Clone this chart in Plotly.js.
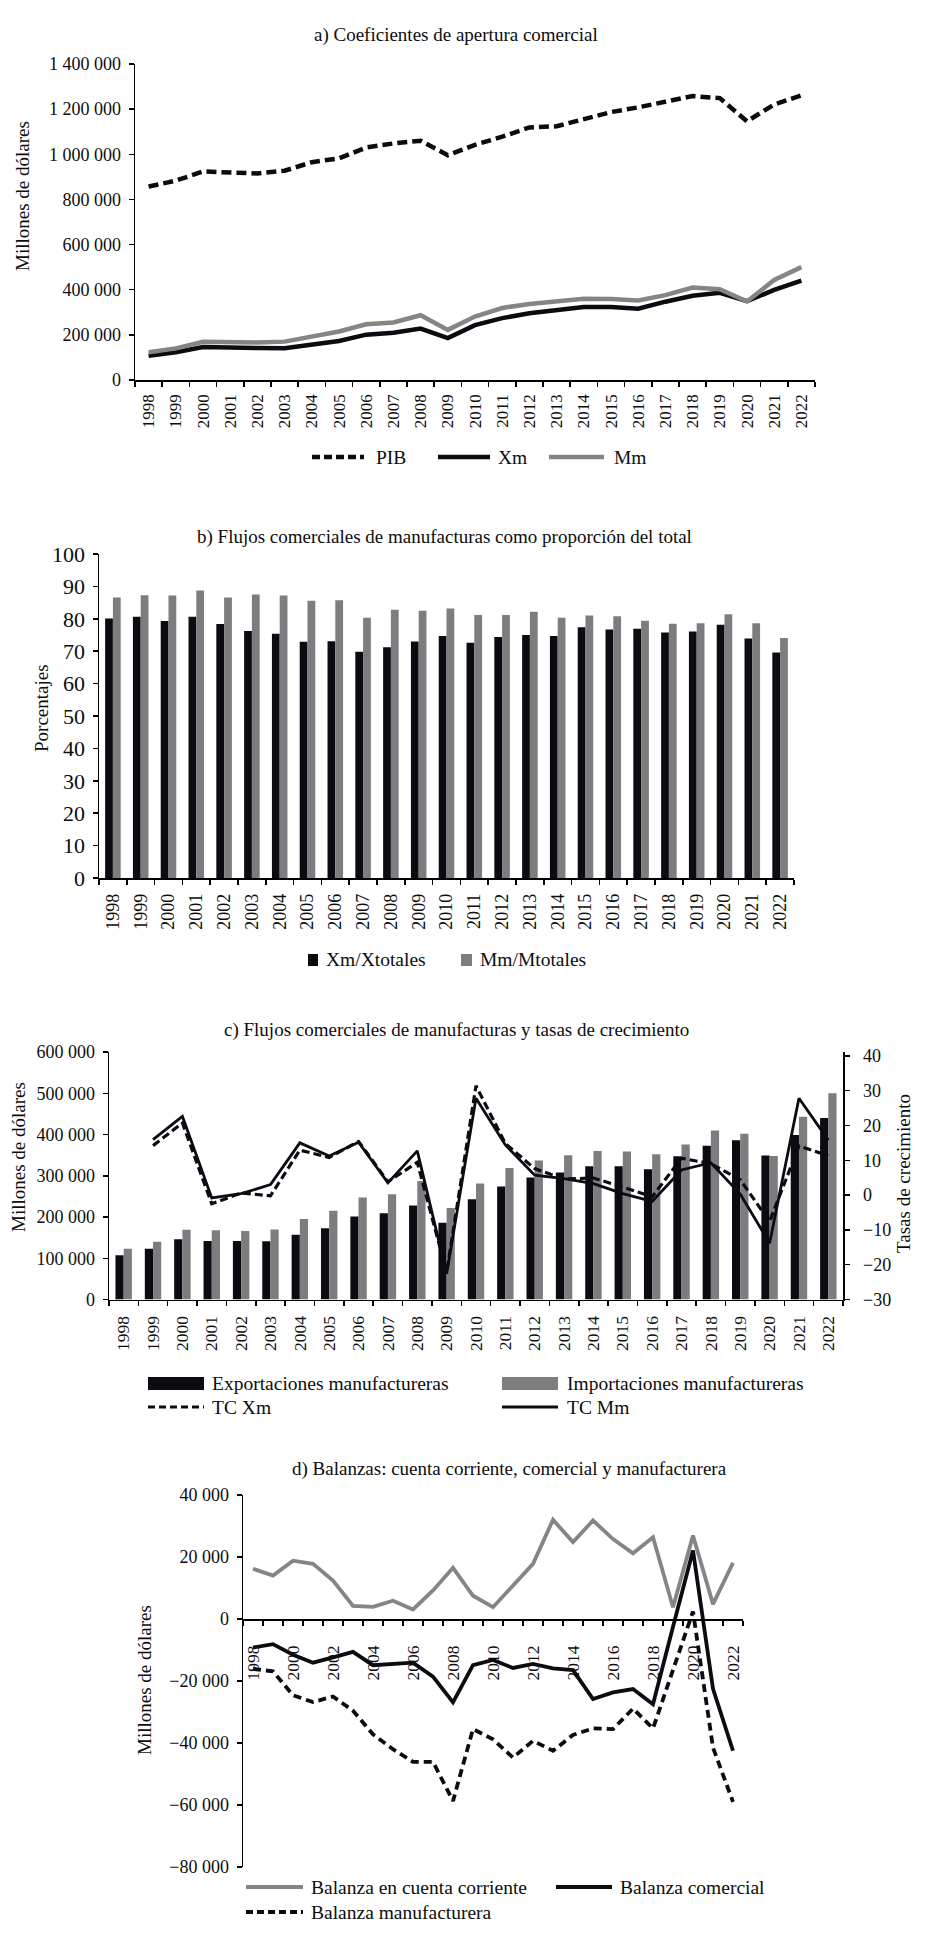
<!DOCTYPE html>
<html>
<head>
<meta charset="utf-8">
<script src="https://cdn.plot.ly/plotly-3.0.1.min.js"></script>
<style>html,body{margin:0;padding:0;background:#fff;}#chart{width:928px;height:1938px;}</style>
</head>
<body>
<div id="chart"></div>
<script>
// ---------- DATA ----------
const years = ['1998','1999','2000','2001','2002','2003','2004','2005','2006','2007','2008','2009','2010','2011','2012','2013','2014','2015','2016','2017','2018','2019','2020','2021','2022'];

// a) PIB and manufacturing flows (millones de dólares)
const pib = [857000, 883000, 924000, 918000, 915000, 927000, 965000, 982000, 1030000, 1048000, 1060000, 996000, 1042000, 1078000, 1119000, 1124000, 1156000, 1187000, 1208000, 1233000, 1258000, 1249000, 1146000, 1221000, 1261000];
const xm = [107000, 123000, 146000, 142000, 142000, 141000, 157000, 173000, 201000, 209000, 228000, 186000, 243000, 274000, 296000, 308000, 323000, 323000, 316000, 347000, 373000, 386000, 349000, 399000, 440000];
const mm = [123000, 140000, 169000, 168000, 166000, 170000, 195000, 215000, 247000, 255000, 287000, 222000, 281000, 319000, 337000, 350000, 360000, 359000, 352000, 376000, 410000, 402000, 348000, 443000, 500000];

// b) shares (%)
const xmShare = [80.1, 80.6, 79.3, 80.6, 78.4, 76.2, 75.4, 72.9, 73.1, 69.8, 71.2, 73.0, 74.7, 72.6, 74.4, 75.0, 74.7, 77.4, 76.7, 76.9, 75.8, 76.1, 78.2, 73.9, 69.6];
const mmShare = [86.6, 87.3, 87.2, 88.7, 86.6, 87.5, 87.2, 85.6, 85.7, 80.3, 82.8, 82.5, 83.2, 81.2, 81.2, 82.2, 80.3, 81.0, 80.8, 79.4, 78.5, 78.6, 81.4, 78.6, 74.1];

// c) growth rates (%)
const tcXm = [null, 14.2, 20.7, -2.5, 0.6, -0.2, 12.9, 10.8, 15.4, 3.8, 9.4, -22.2, 31.4, 14.8, 7.6, 4.6, 4.9, 2.3, -0.5, 10.6, 9.0, 4.4, -7.6, 14.1, 11.3];
const tcMm = [null, 15.9, 22.6, -0.8, 0.4, 3.0, 15.0, 11.2, 15.2, 3.5, 12.7, -22.6, 27.8, 14.4, 5.7, 4.7, 3.3, 0.4, -1.8, 7.2, 9.3, 0.3, -13.8, 27.8, 15.8];

// d) balances (millones de dólares)
const balCC = [16200, 14000, 18800, 17800, 12400, 4200, 3900, 5900, 3100, 9200, 16500, 7500, 3800, 10800, 17800, 32000, 24800, 31800, 25800, 21200, 26400, 3800, 26900, 4800, 18100];
const balCom = [-9200, -8100, -11500, -14100, -12400, -10600, -14900, -14600, -14100, -18600, -26900, -14900, -13200, -15800, -14500, -15900, -16500, -25800, -23700, -22600, -27500, -2500, 22100, -22500, -42500];
const balMan = [-16100, -16900, -24600, -26800, -25000, -29600, -37200, -42000, -46100, -46100, -58700, -35500, -38800, -44700, -39300, -42500, -37400, -35300, -35500, -28900, -35300, -16000, 2400, -41500, -59000];

// ---------- LAYOUT HELPERS ----------
const W = 928, H = 1938;
const px = v => v / W;
const py = v => 1 - v / H;
const FONT = 'Liberation Serif, Times New Roman, serif';
const BLACK = '#0a0c12';
const GRAY = '#7d7d7f';
const LGRAY = '#858585';
const TXT = '#0d0d0d';

const yearNums = years.map(Number);
const evenYears = yearNums.filter(y => y % 2 === 0);
const bounds = [yearNums[0] - 0.5].concat(yearNums.map(y => y + 0.5));

const baseAxis = {
  showline: true, linecolor: '#000', linewidth: 1.5,
  showgrid: false, zeroline: false,
  ticks: 'outside', ticklen: 5, tickwidth: 1.5, tickcolor: '#000',
  tickfont: {family: FONT, size: 18, color: TXT}
};
function ax(extra) { return Object.assign({}, baseAxis, extra, {tickfont: Object.assign({}, baseAxis.tickfont, (extra && extra.tickfont) || {})}); }

// ---------- TRACES ----------
const traces = [
  // a)
  {x: years, y: pib, type: 'scatter', mode: 'lines', xaxis: 'x', yaxis: 'y', line: {color: BLACK, width: 4.5, dash: '10px,5px'}},
  {x: years, y: xm, type: 'scatter', mode: 'lines', xaxis: 'x', yaxis: 'y', line: {color: BLACK, width: 4.5}},
  {x: years, y: mm, type: 'scatter', mode: 'lines', xaxis: 'x', yaxis: 'y', line: {color: LGRAY, width: 4.5}},
  // b)
  {x: years, y: xmShare, type: 'bar', xaxis: 'x2', yaxis: 'y2', marker: {color: BLACK}},
  {x: years, y: mmShare, type: 'bar', xaxis: 'x2', yaxis: 'y2', marker: {color: GRAY}},
  // c)
  {x: years, y: xm, type: 'bar', xaxis: 'x3', yaxis: 'y3', marker: {color: BLACK}},
  {x: years, y: mm, type: 'bar', xaxis: 'x3', yaxis: 'y3', marker: {color: GRAY}},
  {x: years, y: tcXm, type: 'scatter', mode: 'lines', xaxis: 'x3', yaxis: 'y4', line: {color: BLACK, width: 3.2, dash: '8px,4px'}},
  {x: years, y: tcMm, type: 'scatter', mode: 'lines', xaxis: 'x3', yaxis: 'y4', line: {color: BLACK, width: 2.8}},
  // d)
  {x: yearNums, y: balCC, type: 'scatter', mode: 'lines', xaxis: 'x4', yaxis: 'y5', line: {color: LGRAY, width: 3.8}},
  {x: yearNums, y: balCom, type: 'scatter', mode: 'lines', xaxis: 'x4', yaxis: 'y5', line: {color: BLACK, width: 3.8}},
  {x: yearNums, y: balMan, type: 'scatter', mode: 'lines', xaxis: 'x4', yaxis: 'y5', line: {color: BLACK, width: 3.8, dash: '8px,5px'}}
];

// ---------- ANNOTATIONS / LEGENDS ----------
const ann = [];
function text(t, x, y, opts) {
  ann.push(Object.assign({text: t, x: px(x), y: py(y), xref: 'paper', yref: 'paper', showarrow: false,
    xanchor: 'center', yanchor: 'middle', font: {family: FONT, size: 19.5, color: TXT}}, opts || {}));
}
const shapes = [];
function lineSw(x0, x1, y, color, width, dash) {
  shapes.push({type: 'line', xref: 'paper', yref: 'paper', x0: px(x0), x1: px(x1), y0: py(y), y1: py(y),
    line: {color: color, width: width, dash: dash || 'solid'}});
}
function rectSw(x0, x1, y0, y1, color) {
  shapes.push({type: 'rect', xref: 'paper', yref: 'paper', x0: px(x0), x1: px(x1), y0: py(y1), y1: py(y0),
    fillcolor: color, line: {width: 0}});
}

const titleFont = {family: FONT, size: 19, color: TXT};
const axTitleFont = {family: FONT, size: 19, color: TXT};

// titles
text('a) Coeficientes de apertura comercial', 456, 35, {font: titleFont});
text('b) Flujos comerciales de manufacturas como proporción del total', 444, 537, {font: titleFont});
text('c) Flujos comerciales de manufacturas y tasas de crecimiento', 456, 1030, {font: titleFont});
text('d) Balanzas: cuenta corriente, comercial y manufacturera', 509, 1469, {font: titleFont});

// axis titles
text('Millones de dólares', 22, 196, {textangle: -90, font: axTitleFont});
text('Porcentajes', 41, 708, {textangle: -90, font: axTitleFont});
text('Millones de dólares', 18, 1157, {textangle: -90, font: axTitleFont});
text('Tasas de crecimiento', 903, 1174, {textangle: -90, font: axTitleFont});
text('Millones de dólares', 144, 1680, {textangle: -90, font: axTitleFont});

// legend a
lineSw(312, 364, 457, BLACK, 4.5, '8px,4px');
text('PIB', 374, 457, {xanchor: 'left'});
lineSw(438, 490, 457, BLACK, 4.5);
text('Xm', 496, 457, {xanchor: 'left'});
lineSw(549, 604, 457, LGRAY, 4.5);
text('Mm', 612, 457, {xanchor: 'left'});

// legend b
rectSw(308, 318, 954, 966, BLACK);
text('Xm/Xtotales', 324, 960, {xanchor: 'left'});
rectSw(461, 472, 954, 966, GRAY);
text('Mm/Mtotales', 478, 960, {xanchor: 'left'});

// legend c
rectSw(148, 204, 1377, 1390, BLACK);
text('Exportaciones manufactureras', 210, 1383, {xanchor: 'left'});
rectSw(502, 558, 1377, 1390, GRAY);
text('Importaciones manufactureras', 565, 1383, {xanchor: 'left'});
lineSw(148, 204, 1407, BLACK, 3, '7px,4px');
text('TC Xm', 210, 1407, {xanchor: 'left'});
lineSw(502, 558, 1407, BLACK, 3);
text('TC Mm', 565, 1407, {xanchor: 'left'});

// legend d
lineSw(246, 303, 1887, LGRAY, 4);
text('Balanza en cuenta corriente', 309, 1887, {xanchor: 'left'});
lineSw(556, 612, 1887, BLACK, 4);
text('Balanza comercial', 618, 1887, {xanchor: 'left'});
lineSw(246, 303, 1912, BLACK, 4, '7px,4px');
text('Balanza manufacturera', 309, 1912, {xanchor: 'left'});

// ---------- LAYOUT ----------
const catX = {type: 'category', range: [-0.5, 24.5], tickson: 'boundaries', tickangle: -90,
  tickfont: {size: 17}, ticklabelstandoff: 6};

const dYmin = -80000, dYmax = 40000;
const dTop = 1495, dBot = 1867;

const layout = {
  width: W, height: H,
  margin: {l: 0, r: 0, t: 0, b: 0, pad: 0},
  paper_bgcolor: '#fff', plot_bgcolor: 'rgba(0,0,0,0)',
  showlegend: false,
  separators: '. ',
  barmode: 'group', bargap: 0.44, bargroupgap: 0,
  font: {family: FONT, color: TXT},
  xaxis: ax(Object.assign({}, catX, {domain: [px(135), px(815)], anchor: 'y'})),
  yaxis: ax({domain: [py(380), py(64)], anchor: 'x', range: [0, 1400000], dtick: 200000, tickformat: ',d', ticklabelstandoff: 4}),
  xaxis2: ax(Object.assign({}, catX, {domain: [px(99), px(794)], anchor: 'y2', tickfont: {size: 18}, ticklabelstandoff: 7})),
  yaxis2: ax({domain: [py(878), py(554)], anchor: 'x2', range: [0, 100], dtick: 10, tickfont: {size: 22}, ticklabelstandoff: 3}),
  xaxis3: ax(Object.assign({}, catX, {domain: [px(109), px(843)], anchor: 'y3', tickfont: {size: 17.5}, ticklabelstandoff: 8})),
  yaxis3: ax({domain: [py(1299.5), py(1052)], anchor: 'x3', range: [0, 600000], dtick: 100000, tickformat: ',d', ticklabelstandoff: 4}),
  yaxis4: ax({domain: [py(1299.5), py(1052)], anchor: 'x3', overlaying: 'y3', side: 'right', range: [-30, 41.1], dtick: 10, ticklabelstandoff: 10}),
  xaxis4: ax({domain: [px(243), px(743)], anchor: 'free',
    position: py(dBot) + (0 - dYmin) / (dYmax - dYmin) * (py(dTop) - py(dBot)),
    type: 'linear', range: [1997.5, 2022.5], tickvals: evenYears, ticktext: evenYears.map(String),
    ticks: '', tickangle: -90, tickfont: {size: 17.5}, ticklabelstandoff: 18,
    minor: {tickvals: bounds, ticks: 'outside', ticklen: 5, tickwidth: 1.5, tickcolor: '#000'}}),
  yaxis5: ax({domain: [py(dBot), py(dTop)], anchor: 'x4', range: [dYmin, dYmax], dtick: 20000, tickformat: ',d', ticklabelstandoff: 4}),
  annotations: ann,
  shapes: shapes
};

Plotly.newPlot('chart', traces, layout, {displayModeBar: false, staticPlot: true});
</script>
</body>
</html>
